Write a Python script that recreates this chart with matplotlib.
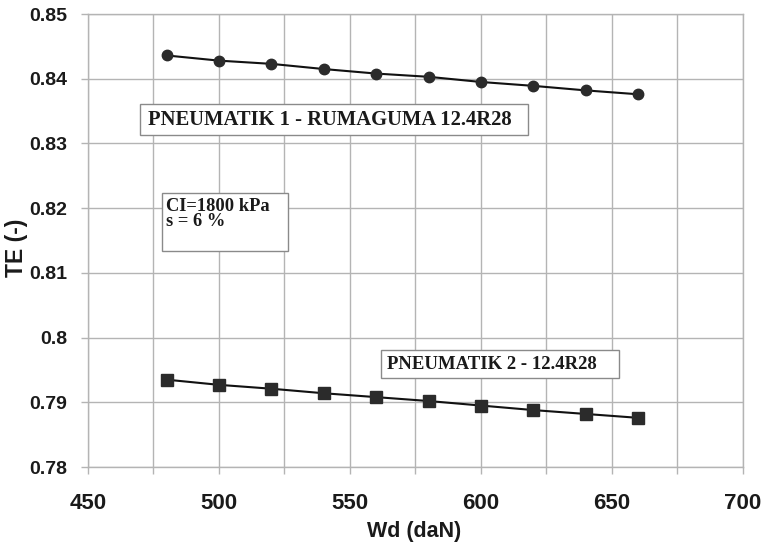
import matplotlib
matplotlib.use("Agg")
import matplotlib.pyplot as plt
from matplotlib.patches import Rectangle
from matplotlib.ticker import MultipleLocator, FormatStrFormatter

# data
wd = [480, 500, 520, 540, 560, 580, 600, 620, 640, 660]
te_pneu1 = [0.8436, 0.8428, 0.8423, 0.8415, 0.8408, 0.8403, 0.8395, 0.8389, 0.8382, 0.8376]
te_pneu2 = [0.7935, 0.7927, 0.7921, 0.7914, 0.7908, 0.7902, 0.7895, 0.7888, 0.7882, 0.7876]

label1 = "PNEUMATIK 1 - RUMAGUMA 12.4R28"
label2 = "PNEUMATIK 2 - 12.4R28"
cond_lines = ["CI=1800 kPa", "s = 6 %"]

sans = "Liberation Sans"
serif = "Liberation Serif"
grid_c = "#b4b4b4"
mark_c = "#2b2b2b"

fig = plt.figure(figsize=(7.61, 5.44), dpi=100)
ax = fig.add_axes([0.1156, 0.1415, 0.8607, 0.8327])

ax.plot(wd, te_pneu1, color="#111111", lw=1.5, marker="o", ms=7.5,
        mfc=mark_c, mec=mark_c, zorder=3)
ax.plot(wd, te_pneu2, color="#111111", lw=1.5, marker="s", ms=8.5,
        mfc=mark_c, mec=mark_c, zorder=3)

ax.set_xlim(450, 700)
ax.set_ylim(0.78, 0.85)
ax.xaxis.set_major_locator(MultipleLocator(50))
ax.xaxis.set_minor_locator(MultipleLocator(25))
ax.yaxis.set_major_locator(MultipleLocator(0.01))
ax.yaxis.set_major_formatter(FormatStrFormatter("%g"))

ax.grid(True, which="both", color=grid_c, lw=1.0)
ax.set_axisbelow(True)
for s in ax.spines.values():
    s.set_color(grid_c)
    s.set_linewidth(1.0)

ax.tick_params(which="both", direction="out", length=5, color=grid_c, width=1.0)
ax.tick_params(axis="y", pad=10)
ax.tick_params(axis="x", pad=13.5)
for t in ax.get_yticklabels():
    t.set_fontfamily(sans)
    t.set_fontweight("bold")
    t.set_fontsize(14)
    t.set_color("#1a1a1a")
for t in ax.get_xticklabels():
    t.set_fontfamily(sans)
    t.set_fontweight("bold")
    t.set_fontsize(16)
    t.set_color("#1a1a1a")

ax.set_xlabel("Wd (daN)", fontfamily=sans, fontweight="bold", fontsize=15.5,
              color="#1a1a1a")
ax.set_ylabel("TE (-)", fontfamily=sans, fontweight="bold", fontsize=16.5,
              color="#1a1a1a")
ax.xaxis.set_label_coords(0.498, -0.119)
ax.yaxis.set_label_coords(-0.092, 0.483)

# text boxes
def box(x0, y0, x1, y1):
    ax.add_patch(Rectangle((x0, y0), x1 - x0, y1 - y0, transform=ax.transAxes,
                           facecolor="white", edgecolor="#8a8a8a", lw=1.0, zorder=4))

box(0.0794, 0.7329, 0.6718, 0.8013)
ax.text(0.0916, 0.767, label1, transform=ax.transAxes, ha="left", va="center",
        fontfamily=serif, fontweight="bold", fontsize=14.9, color="#1a1a1a", zorder=5)

box(0.113, 0.4768, 0.305, 0.6049)
ax.text(0.119, 0.576, cond_lines[0], transform=ax.transAxes, ha="left", va="center",
        fontfamily=serif, fontweight="bold", fontsize=13.3, color="#1a1a1a", zorder=5)
ax.text(0.119, 0.541, cond_lines[1], transform=ax.transAxes, ha="left", va="center",
        fontfamily=serif, fontweight="bold", fontsize=13.3, color="#1a1a1a", zorder=5)

box(0.4473, 0.1965, 0.8107, 0.2583)
ax.text(0.4565, 0.2274, label2, transform=ax.transAxes, ha="left", va="center",
        fontfamily=serif, fontweight="bold", fontsize=13.5, color="#1a1a1a", zorder=5)

fig.savefig("out.png", dpi=100)
